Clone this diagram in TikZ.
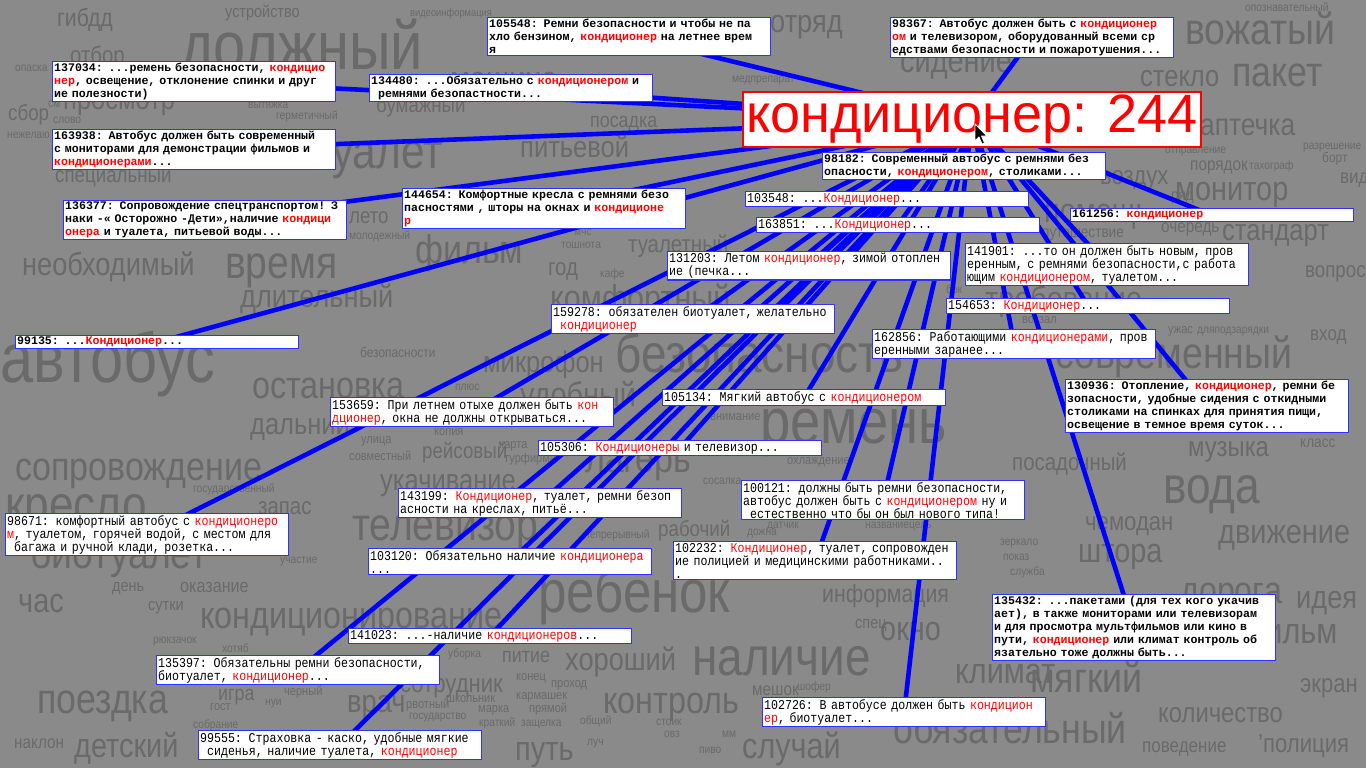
\documentclass[tikz,border=0pt]{standalone}
\usepackage{fontspec}
\setmainfont{Liberation Sans}
\newfontfamily\monofam{Liberation Mono}
\newfontfamily\monothin[FakeStretch=0.86]{Liberation Mono}
\newfontfamily\hdrfont{Liberation Sans}
\newfontfamily\cloudfont[FakeStretch=0.85]{Liberation Sans}
\definecolor{bgray}{RGB}{138,138,138}
\definecolor{wgray}{RGB}{106,106,106}
\definecolor{boxblue}{RGB}{48,48,255}
\definecolor{lineblue}{RGB}{0,0,255}
\definecolor{kwred}{RGB}{255,0,0}
\newcommand\kw[1]{\textcolor{kwred}{#1}}
\newcommand\leadsp{\hspace*{6.96pt}}
\newcounter{wcount}
\newcommand\cw[4]{\stepcounter{wcount}\node[cword,font=\cloudfont\fontsize{#3}{#3}\selectfont] (w\arabic{wcount}) at (#1,#2) {#4};}
\pgfdeclarelayer{back}
\pgfsetlayers{back,main}
\tikzset{
  cbox/.style={draw=boxblue, line width=1.3pt, fill=white, anchor=north west,
    text width=280pt, inner xsep=1.5pt, inner ysep=1.5pt, align=left,
    font=\monothin\fontsize{13.5}{13}\selectfont},
  cboxb/.style={cbox, font=\monofam\bfseries\fontsize{11.6}{13}\selectfont},
  hdr/.style={draw=kwred, line width=1.3pt, fill=white, text=kwred,
    minimum width=458pt, minimum height=55pt, inner sep=0pt,
    font=\hdrfont\fontsize{54}{54}\selectfont},
  cword/.style={anchor=base west, inner sep=0pt, text=wgray},
  conn/.style={draw=lineblue, line width=4.6pt}
}
\begin{document}
\begin{tikzpicture}[x=1pt,y=-1pt]
\useasboundingbox (0,0) rectangle (1366,768);
% header
\node[hdr] (h) at (972,119.5) {кондиционер: 244};
% boxes
\node[cboxb] (b105548) at (487,17) {105548: Ремни безопасности и чтобы не па\\хло бензином, \kw{кондиционер} на летнее врем\\я};
\node[cboxb] (b134480) at (369,74) {134480: ...Обязательно с \kw{кондиционером} и\\\leadsp ремнями безопастности...};
\node[cboxb] (b98367) at (890,17) {98367: Автобус должен быть с \kw{кондиционер}\\\kw{ом} и телевизором, оборудованный всеми ср\\едствами безопасности и пожаротушения...};
\node[cboxb] (b137034) at (52,61) {137034: ...ремень безопасности, \kw{кондицио}\\\kw{нер}, освещение, отклонение спинки и друг\\ие полезности)};
\node[cboxb] (b163938) at (52,129) {163938: Автобус должен быть современный\\с мониторами для демонстрации фильмов и\\\kw{кондиционерами}...};
\node[cboxb] (b136377) at (63,200) {136377: Сопровождение спецтранспортом! З\\наки -« Осторожно -Дети»,наличие \kw{кондици}\\\kw{онера} и туалета, питьевой воды...};
\node[cboxb] (b144654) at (402,188) {144654: Комфортные кресла с ремнями безо\\пасностями , шторы на окнах и \kw{кондиционе}\\\kw{р}};
\node[cboxb] (b98182) at (822,152) {98182: Современный автобус с ремнями без\\опасности, \kw{кондиционером}, столиками...};
\node[cbox] (b103548) at (745,191) {103548: ...\kw{Кондиционер}...};
\node[cbox] (b163851) at (756,217) {163851: ...\kw{Кондиционер}...};
\node[cboxb] (b161256) at (1070,208) {161256: \kw{кондиционер}};
\node[cbox] (b131203) at (667,251) {131203: Летом \kw{кондиционер}, зимой отоплен\\ие (печка...};
\node[cbox] (b141901) at (965,243) {141901: ...то он должен быть новым, пров\\еренным, с ремнями безопасности,с работа\\ющим \kw{кондиционером}, туалетом...};
\node[cbox] (b154653) at (946,298) {154653: \kw{Кондиционер}...};
\node[cbox] (b159278) at (551,304) {159278: обязателен биотуалет, желательно\\\leadsp\kw{кондиционер}};
\node[cbox] (b162856) at (872,329) {162856: Работающими \kw{кондиционерами}, пров\\еренными заранее...};
\node[cboxb] (b99135) at (15,335) {99135: ...\kw{Кондиционер}...};
\node[cboxb] (b130936) at (1065,379) {130936: Отопление, \kw{кондиционер}, ремни бе\\зопасности, удобные сидения с откидными\\столиками на спинках для принятия пищи,\\освещение в темное время суток...};
\node[cbox] (b153659) at (330,397) {153659: При летнем отыхе должен быть \kw{кон}\\\kw{дционер}, окна не должны открываться...};
\node[cbox] (b105134) at (662,389) {105134: Мягкий автобус с \kw{кондиционером}};
\node[cbox] (b105306) at (538,440) {105306: \kw{Кондиционеры} и телевизор...};
\node[cbox] (b143199) at (398,488) {143199: \kw{Кондиционер}, туалет, ремни безоп\\асности на креслах, питьё...};
\node[cbox] (b100121) at (741,480) {100121: должны быть ремни безопасности,\\автобус должен быть с \kw{кондиционером} ну и\\\leadsp естественно что бы он был нового типа!};
\node[cbox] (b98671) at (5,513) {98671: комфортный автобус с \kw{кондиционеро}\\\kw{м}, туалетом, горячей водой, с местом для\\\leadsp багажа и ручной клади, розетка...};
\node[cbox] (b103120) at (368,548) {103120: Обязательно наличие \kw{кондиционера}\\...};
\node[cbox] (b102232) at (673,541) {102232: \kw{Кондиционер}, туалет, сопровожден\\ие полицией и медицинскими работниками..\\.};
\node[cboxb] (b135432) at (992,594) {135432: ...пакетами (для тех кого укачив\\ает), в также мониторами или телевизорам\\и для просмотра мультфильмов или кино в\\пути, \kw{кондиционер} или климат контроль об\\язательно тоже должны быть...};
\node[cbox] (b141023) at (348,628) {141023: ...-наличие \kw{кондиционеров}...};
\node[cbox] (b135397) at (156,655) {135397: Обязательны ремни безопасности,\\биотуалет, \kw{кондиционер}...};
\node[cbox] (b99555) at (198,730) {99555: Страховка - каско, удобные мягкие\\\leadsp сиденья, наличие туалета, \kw{кондиционер}};
\node[cbox] (b102726) at (762,697) {102726: В автобусе должен быть \kw{кондицион}\\\kw{ер}, биотуалет...};
% cursor
\draw[fill=black, draw=white, line width=0.8pt] (975,124) -- ++(0,17) -- ++(4,-4) -- ++(3,7) -- ++(2.5,-1) -- ++(-3,-7) -- ++(5.5,0) -- cycle;
\begin{pgfonlayer}{back}
\fill[bgray] (0,0) rectangle (1366,768);
% word cloud
\cw{57}{27}{25}{гибдд}
\cw{225}{18}{17}{устройство}
\cw{180}{70}{68}{должный}
\cw{70}{64}{24}{отбор}
\cw{770}{33}{32}{отряд}
\cw{1185}{45}{44}{вожатый}
\cw{900}{73}{34}{сидение}
\cw{450}{90}{34}{машина}
\cw{1140}{87}{30}{стекло}
\cw{1232}{87}{42}{пакет}
\cw{1200}{135}{31}{аптечка}
\cw{1245}{12}{12}{опознавательный}
\cw{63}{110}{30}{просмотр}
\cw{8}{120}{22}{сбор}
\cw{376}{113}{22}{бумажный}
\cw{590}{127}{21}{посадка}
\cw{520}{157}{30}{питьевой}
\cw{312}{168}{50}{туалет}
\cw{55}{182}{22}{специальный}
\cw{1175}{200}{34}{монитор}
\cw{1100}{184}{26}{воздух}
\cw{1044}{222}{34}{помощь}
\cw{1222}{240}{30}{стандарт}
\cw{22}{275}{32}{необходимый}
\cw{225}{278}{46}{время}
\cw{415}{263}{40}{фильм}
\cw{628}{252}{24}{туалетный}
\cw{548}{275}{24}{год}
\cw{240}{307}{32}{длительный}
\cw{550}{310}{36}{комфортный}
\cw{615}{372}{54}{безопасность}
\cw{0}{382}{70}{автобус}
\cw{252}{398}{38}{остановка}
\cw{483}{372}{30}{микрофон}
\cw{520}{406}{34}{удобный}
\cw{760}{443}{64}{ремень}
\cw{1055}{368}{44}{современный}
\cw{985}{310}{34}{требование}
\cw{250}{434}{30}{дальний}
\cw{15}{480}{40}{сопровождение}
\cw{380}{490}{30}{укачивание}
\cw{585}{472}{40}{лагерь}
\cw{422}{458}{22}{рейсовый}
\cw{1012}{470}{24}{посадочный}
\cw{1188}{456}{28}{музыка}
\cw{1163}{503}{52}{вода}
\cw{5}{522}{52}{кресло}
\cw{258}{514}{24}{запас}
\cw{352}{540}{46}{телевизор}
\cw{1085}{530}{26}{чемодан}
\cw{1218}{543}{34}{движение}
\cw{30}{568}{44}{биотуалет}
\cw{1078}{562}{34}{штора}
\cw{658}{536}{22}{рабочий}
\cw{538}{612}{60}{ребенок}
\cw{18}{612}{34}{час}
\cw{112}{591}{17}{день}
\cw{180}{592}{19}{оказание}
\cw{148}{610}{17}{сутки}
\cw{200}{628}{38}{кондиционирование}
\cw{822}{602}{25}{информация}
\cw{1180}{603}{38}{дорога}
\cw{1296}{608}{32}{идея}
\cw{855}{628}{17}{спец}
\cw{880}{640}{34}{окно}
\cw{1240}{643}{36}{фильм}
\cw{692}{675}{54}{наличие}
\cw{565}{670}{32}{хороший}
\cw{502}{662}{21}{питие}
\cw{955}{683}{36}{климат}
\cw{1030}{692}{42}{мягкий}
\cw{37}{713}{42}{поездка}
\cw{218}{700}{21}{игра}
\cw{400}{692}{26}{сотрудник}
\cw{603}{713}{38}{контроль}
\cw{347}{712}{32}{врач}
\cw{893}{743}{42}{обязательный}
\cw{1158}{722}{28}{количество}
\cw{1300}{692}{26}{экран}
\cw{74}{757}{34}{детский}
\cw{515}{760}{34}{путь}
\cw{742}{758}{36}{случай}
\cw{1142}{752}{20}{поведение}
\cw{1258}{752}{26}{’полиция}
\cw{14}{748}{18}{наклон}
\cw{1310}{340}{20}{вход}
\cw{1305}{277}{22}{вопрос}
\cw{1340}{183}{20}{вид}
\cw{1300}{447}{16}{класс}
\cw{360}{357}{14}{безопасности}
\cw{15}{71}{12}{опаска}
\cw{48}{107}{12}{см}
\cw{53}{124}{12}{слово}
\cw{7}{138}{12}{нежелаю}
\cw{248}{108}{12}{вытяжка}
\cw{276}{119}{12}{герметичный}
\cw{410}{17}{11}{видеоинформация}
\cw{732}{82}{12}{медпрепарат}
\cw{349}{239}{12}{молодежный}
\cw{349}{223}{22}{лето}
\cw{574}{235}{12}{мчс}
\cw{1165}{153}{12}{отправление}
\cw{1303}{149}{12}{разрешение}
\cw{1322}{162}{14}{борт}
\cw{1190}{170}{18}{порядок}
\cw{1249}{169}{12}{тахограф}
\cw{1171}{200}{16}{ряд}
\cw{1161}{232}{18}{очередь}
\cw{1042}{237}{16}{путешествие}
\cw{561}{248}{12}{тошнота}
\cw{600}{277}{12}{кафе}
\cw{946}{293}{12}{бок}
\cw{1022}{323}{13}{вокзал}
\cw{1168}{333}{13}{ужас}
\cw{1197}{333}{12}{дляподзарядки}
\cw{455}{390}{12}{плюс}
\cw{710}{420}{13}{внимание}
\cw{434}{435}{13}{копия}
\cw{361}{443}{13}{улица}
\cw{349}{460}{13}{совместный}
\cw{499}{448}{13}{карта}
\cw{504}{462}{13}{турфирма}
\cw{787}{464}{13}{охлаждение}
\cw{193}{492}{12}{государственный}
\cw{280}{563}{12}{участие}
\cw{584}{538}{12}{непрерывный}
\cw{767}{528}{12}{датчик}
\cw{865}{528}{12}{название}
\cw{909}{528}{12}{цель}
\cw{1000}{545}{12}{зеркало}
\cw{1003}{560}{12}{показ}
\cw{1010}{575}{12}{служба}
\cw{747}{535}{12}{дожна}
\cw{703}{484}{12}{сосалка}
\cw{153}{643}{12}{рюкзачок}
\cw{222}{652}{12}{хотяб}
\cw{210}{710}{13}{гост}
\cw{265}{705}{12}{нуи}
\cw{284}{695}{13}{черный}
\cw{193}{728}{12}{собрание}
\cw{448}{657}{12}{уборка}
\cw{516}{680}{13}{конец}
\cw{551}{687}{13}{проход}
\cw{446}{702}{13}{школьник}
\cw{516}{699}{13}{кармашек}
\cw{406}{708}{13}{рвотный}
\cw{478}{712}{13}{марка}
\cw{529}{712}{13}{прямой}
\cw{409}{719}{12}{государство}
\cw{479}{726}{12}{краткий}
\cw{521}{726}{12}{защелка}
\cw{580}{724}{12}{общий}
\cw{656}{725}{12}{стоик}
\cw{664}{737}{12}{овз}
\cw{722}{737}{12}{мм}
\cw{587}{745}{12}{луч}
\cw{699}{753}{12}{пиво}
\cw{752}{695}{18}{мешок}
\cw{797}{690}{12}{шофер}
\cw{817}{708}{12}{международный}
% connectors
\foreach \b in {b105548,b134480,b98367,b137034,b163938,b136377,b144654,b98182,b103548,b163851,b161256,b131203,b141901,b154653,b159278,b162856,b99135,b130936,b153659,b105134,b105306,b143199,b100121,b98671,b103120,b102232,b135432,b141023,b135397,b99555,b102726}
  \draw[conn] (h.center) -- (\b.center);
\end{pgfonlayer}
\end{tikzpicture}
\end{document}
